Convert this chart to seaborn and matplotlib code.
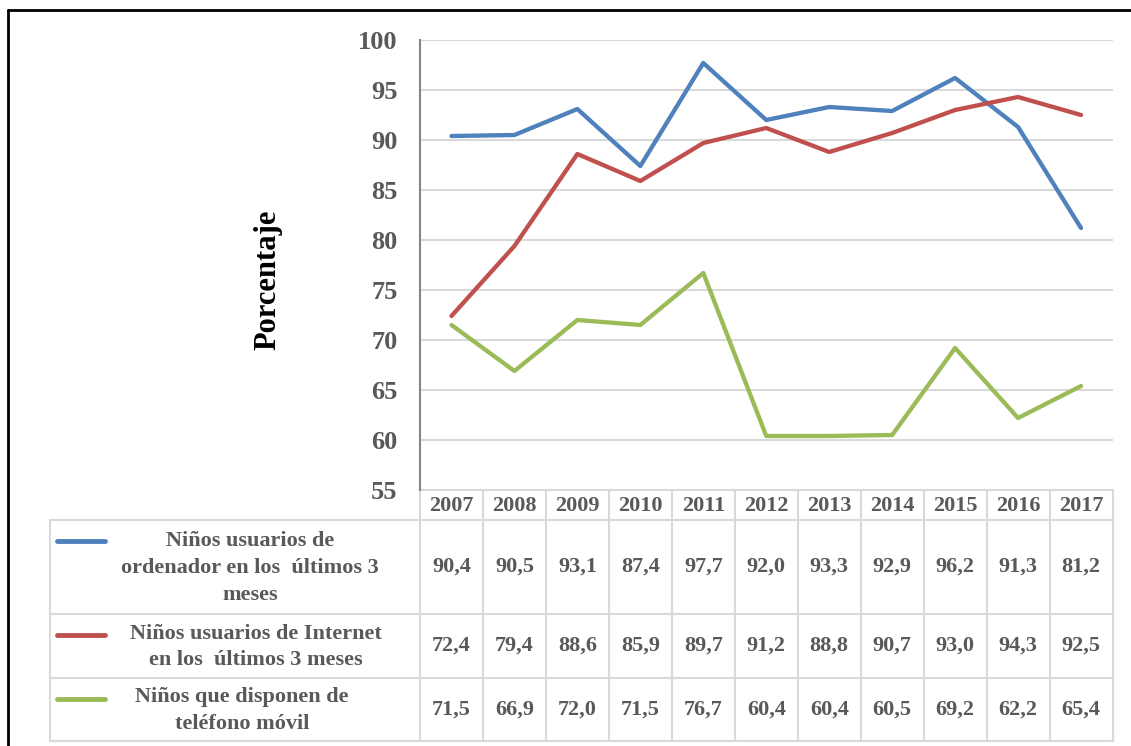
import matplotlib
matplotlib.use("Agg")
import matplotlib.pyplot as plt
import matplotlib.transforms as mtransforms
import seaborn as sns
import pandas as pd

years = ["2007", "2008", "2009", "2010", "2011", "2012", "2013", "2014", "2015", "2016", "2017"]
ordenador = [90.4, 90.5, 93.1, 87.4, 97.7, 92.0, 93.3, 92.9, 96.2, 91.3, 81.2]
internet = [72.4, 79.4, 88.6, 85.9, 89.7, 91.2, 88.8, 90.7, 93.0, 94.3, 92.5]
movil = [71.5, 66.9, 72.0, 71.5, 76.7, 60.4, 60.4, 60.5, 69.2, 62.2, 65.4]
series_names = [
    "Niños usuarios de\nordenador en los  últimos 3\nmeses",
    "Niños usuarios de Internet\nen los  últimos 3 meses",
    "Niños que disponen de\nteléfono móvil",
]
series_values = [ordenador, internet, movil]
colors = ["#4F81BD", "#C0504D", "#9BBB59"]
yticks = [55, 60, 65, 70, 75, 80, 85, 90, 95, 100]

sns.set_style("white")
plt.rcParams["font.family"] = ["Liberation Serif", "DejaVu Serif"]
plt.rcParams["font.weight"] = "bold"

W, H = 1131, 746
fig = plt.figure(figsize=(W / 100, H / 100), dpi=100)

# main plot axes (pixel layout)
px_l, px_r, px_t, px_b = 420, 1112.5, 40, 490
ax = fig.add_axes([px_l / W, 1 - px_b / H, (px_r - px_l) / W, (px_b - px_t) / H])

rows = []
for name, vals in zip(series_names, series_values):
    for y, v in zip(years, vals):
        rows.append({"year": y, "value": v, "serie": name})
df = pd.DataFrame(rows)

sns.lineplot(data=df, x="year", y="value", hue="serie", palette=colors,
             linewidth=3.1, sort=False, legend=False, ax=ax,
             solid_capstyle="round", solid_joinstyle="round", zorder=3)

ax.set_xlim(-0.5, len(years) - 0.5)
ax.set_ylim(55, 100)
ax.set_yticks(yticks)
ax.set_yticklabels([str(t) for t in yticks], fontsize=19, color="#595959", fontweight="bold")
ax.set_xticks([])
ax.set_xlabel("")
ax.set_ylabel("Porcentaje", fontsize=22, fontweight="bold", color="black", labelpad=0)
ax.yaxis.set_label_coords(-(px_l - 282) / (px_r - px_l), (490 - 280) / (490 - 40))
ax.tick_params(axis="y", length=0, pad=16)
ax.grid(axis="y", color="#D9D9D9", linewidth=1.5)
ax.set_axisbelow(True)
for s in ["top", "right", "bottom"]:
    ax.spines[s].set_visible(False)
ax.spines["left"].set_color("#868686")
ax.spines["left"].set_linewidth(1.5)

# overlay axes in pixel coordinates for table & border
tab = fig.add_axes([0, 0, 1, 1], zorder=-1)
tab.set_xlim(0, W)
tab.set_ylim(H, 0)
tab.axis("off")
tab.patch.set_alpha(0)

blend = mtransforms.blended_transform_factory(ax.transData, tab.transData)
gc = "#D9D9D9"
glw = 1.5

row_edges = [490, 520, 614, 678, 741]
n = len(years)
label_left = 50

# horizontal lines
tab.plot([-0.5, n - 0.5], [490, 490], transform=blend, color=gc, lw=glw)
for yy in row_edges[1:]:
    tab.plot([label_left, px_r], [yy, yy], color=gc, lw=glw)
# vertical lines
for k in range(n + 1):
    tab.plot([k - 0.5, k - 0.5], [490, row_edges[-1]], transform=blend, color=gc, lw=glw)
tab.plot([label_left, label_left], [520, row_edges[-1]], color=gc, lw=glw)

# header years
for i, yname in enumerate(years):
    tab.text(i, 506, yname, transform=blend, ha="center", va="center",
             fontsize=16, fontweight="bold", color="#595959")

# values
label_cx = [250, 256, 242]
for r, (name, vals, c) in enumerate(zip(series_names, series_values, colors)):
    y0, y1 = row_edges[r + 1], row_edges[r + 2]
    cy = (y0 + y1) / 2
    for i, v in enumerate(vals):
        tab.text(i, cy, f"{v:.1f}".replace(".", ","), transform=blend,
                 ha="center", va="center", fontsize=16, fontweight="bold", color="#595959")
    tab.plot([57, 105], [y0 + 21, y0 + 21], color=c, lw=3.5, solid_capstyle="round")
    tab.text(label_cx[r], cy + 1, name, ha="center", va="center", multialignment="center",
             fontsize=16, fontweight="bold", color="#595959", linespacing=1.45)

# outer border (top & left)
tab.plot([7.5, W], [9.5, 9.5], color="black", lw=2)
tab.plot([7.5, 7.5], [9.5, H], color="black", lw=2)

fig.savefig("out.png", dpi=100)
